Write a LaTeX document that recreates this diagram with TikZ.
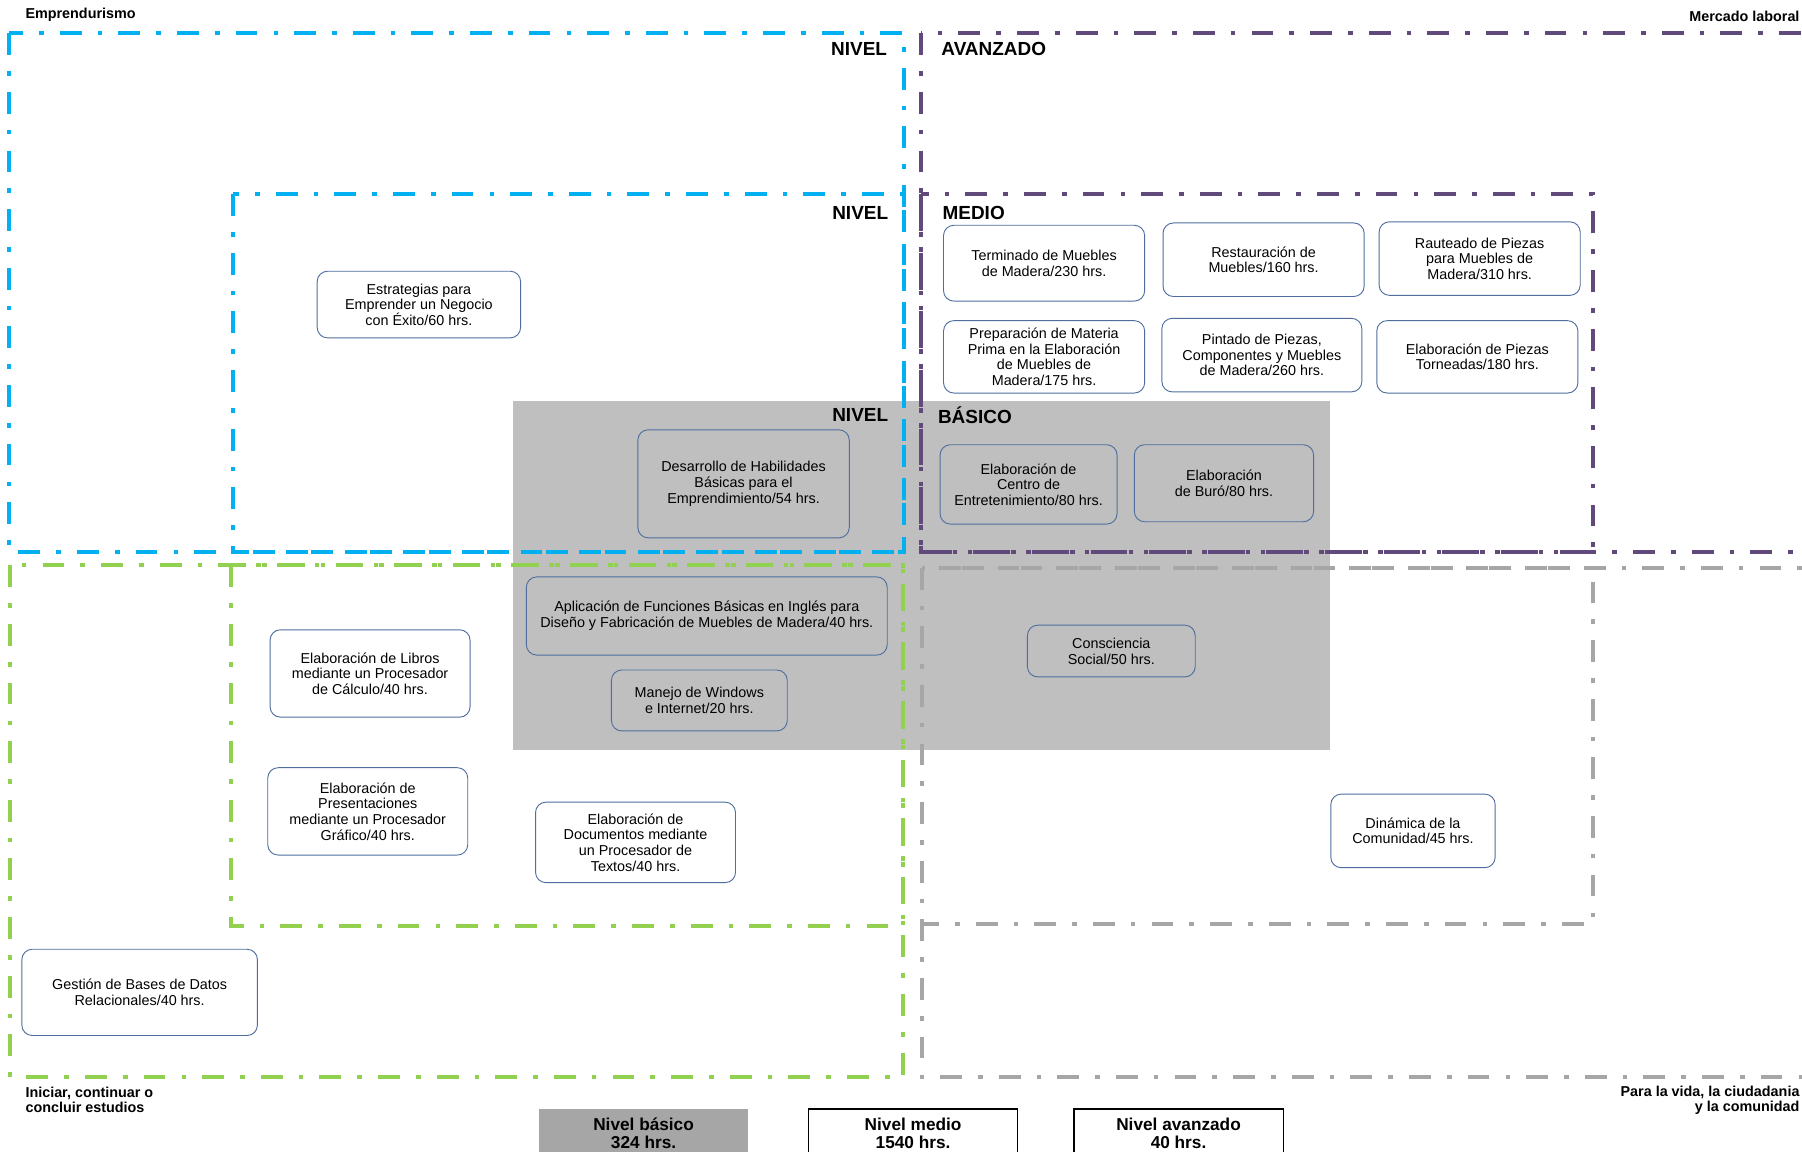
\documentclass[tikz,border=0pt]{standalone}
\usepackage{fontspec}
\setmainfont{Liberation Sans}
\usepackage{xcolor}
\definecolor{nivblue}{HTML}{00B0F0}
\definecolor{nivpurple}{HTML}{604A7B}
\definecolor{nivgreen}{HTML}{92D050}
\definecolor{nivgray}{HTML}{A6A6A6}
\definecolor{basfill}{HTML}{BFBFBF}
\definecolor{boxline}{HTML}{4F6E9F}

\begin{document}
\begin{tikzpicture}[x=1pt, y=-1pt,
  zone/.style={line width=3.5pt, dash pattern=on 19pt off 14pt on 4pt off 14pt},
  course/.style={draw=boxline, line width=0.8pt, rounded corners=9pt, align=center,
                 inner sep=2pt, font=\fontsize{12.5}{13.6}\selectfont},
  nivlabel/.style={font=\fontsize{16.5}{18}\selectfont\bfseries, inner sep=0pt},
  sidelabel/.style={font=\fontsize{12.5}{13}\selectfont\bfseries, inner sep=0pt},
  legend/.style={minimum width=182, minimum height=42, align=center, inner sep=0pt,
                 font=\fontsize{15}{16}\selectfont\bfseries}
]
  \useasboundingbox[fill=white] (0,0) rectangle (1568,1002);
  \fill[basfill] (446,349) rectangle (1157,653);

  \draw[zone, nivblue] (8,29) rectangle (787,480);
  \draw[zone, nivblue] (203,169) rectangle (787,480);
  \draw[zone, nivpurple] (801,29) rectangle (1600,480);
  \draw[zone, nivpurple] (801,169) rectangle (1386,480);
  \draw[zone, nivgreen] (9,492) rectangle (786,937);
  \draw[zone, nivgreen] (201,492) rectangle (786,806);
  \draw[zone, nivgray] (802,494) rectangle (1600,937);
  \draw[zone, nivgray] (802,494) rectangle (1386,804);

  \node[sidelabel, anchor=west] (empr) at (22,13) {Emprendurismo};
  \node[sidelabel, anchor=east] (merc) at (1566,14) {Mercado laboral};
  \node[sidelabel, anchor=north west, align=left] (estud) at (22,946) {Iniciar, continuar o\\concluir estudios};
  \node[sidelabel, anchor=north east, align=right] (vida) at (1566,945) {Para la vida, la ciudadania\\y la comunidad};

  \node[nivlabel, anchor=east] (nivA) at (772,43) {NIVEL};
  \node[nivlabel, anchor=west] (avanz) at (819,43) {AVANZADO};
  \node[nivlabel, anchor=east] (nivM) at (773,185) {NIVEL};
  \node[nivlabel, anchor=west] (medio) at (820,185) {MEDIO};
  \node[nivlabel, anchor=east] (nivB) at (773,361) {NIVEL};
  \node[nivlabel, anchor=west] (basico) at (816,361) {BÁSICO};

  \node[course, minimum width=177, minimum height=58] (estrat) at (364.5,265) {Estrategias para\\Emprender un Negocio\\con Éxito/60 hrs.};
  \node[course, minimum width=184, minimum height=94] (habil) at (647,421) {Desarrollo de Habilidades\\Básicas para el\\Emprendimiento/54 hrs.};
  \node[course, minimum width=175, minimum height=66] (termin) at (908.5,229) {Terminado de Muebles\\de Madera/230 hrs.};
  \node[course, minimum width=175, minimum height=64] (restau) at (1099.5,226) {Restauración de\\Muebles/160 hrs.};
  \node[course, minimum width=175, minimum height=64] (rautea) at (1287.5,225) {Rauteado de Piezas\\para Muebles de\\Madera/310 hrs.};
  \node[course, minimum width=175, minimum height=63] (prepar) at (908.5,310.5) {Preparación de Materia\\Prima en la Elaboración\\de Muebles de\\Madera/175 hrs.};
  \node[course, minimum width=174, minimum height=64] (pintad) at (1098,309) {Pintado de Piezas,\\Componentes y Muebles\\de Madera/260 hrs.};
  \node[course, minimum width=175, minimum height=63] (tornea) at (1285.5,310.5) {Elaboración de Piezas\\Torneadas/180 hrs.};
  \node[course, minimum width=154, minimum height=69] (centro) at (895,421.5) {Elaboración de\\Centro de\\Entretenimiento/80 hrs.};
  \node[course, minimum width=156, minimum height=67] (buro) at (1065,420.5) {Elaboración\\de Buró/80 hrs.};
  \node[course, minimum width=314, minimum height=68] (ingles) at (615,536) {Aplicación de Funciones Básicas en Inglés para\\Diseño y Fabricación de Muebles de Madera/40 hrs.};
  \node[course, minimum width=153, minimum height=53] (windows) at (608.5,609.5) {Manejo de Windows\\e Internet/20 hrs.};
  \node[course, minimum width=146, minimum height=45] (concien) at (967,566.5) {Consciencia\\Social/50 hrs.};
  \node[course, minimum width=174, minimum height=76] (libros) at (322,586) {Elaboración de Libros\\mediante un Procesador\\de Cálculo/40 hrs.};
  \node[course, minimum width=174, minimum height=76] (present) at (320,706) {Elaboración de\\Presentaciones\\mediante un Procesador\\Gráfico/40 hrs.};
  \node[course, minimum width=174, minimum height=70] (docum) at (553,733) {Elaboración de\\Documentos mediante\\un Procesador de\\Textos/40 hrs.};
  \node[course, minimum width=143, minimum height=64] (comun) at (1229.5,723) {Dinámica de la\\Comunidad/45 hrs.};
  \node[course, minimum width=205, minimum height=75] (bases) at (121.5,863.5) {Gestión de Bases de Datos\\Relacionales/40 hrs.};

  \node[legend, fill=nivgray] (legbas) at (560,986) {Nivel básico\\324 hrs.};
  \node[legend, draw=black, line width=1pt] (legmed) at (794.5,986) {Nivel medio\\1540 hrs.};
  \node[legend, draw=black, line width=1pt] (legava) at (1025.5,986) {Nivel avanzado\\40 hrs.};
\end{tikzpicture}
\end{document}
